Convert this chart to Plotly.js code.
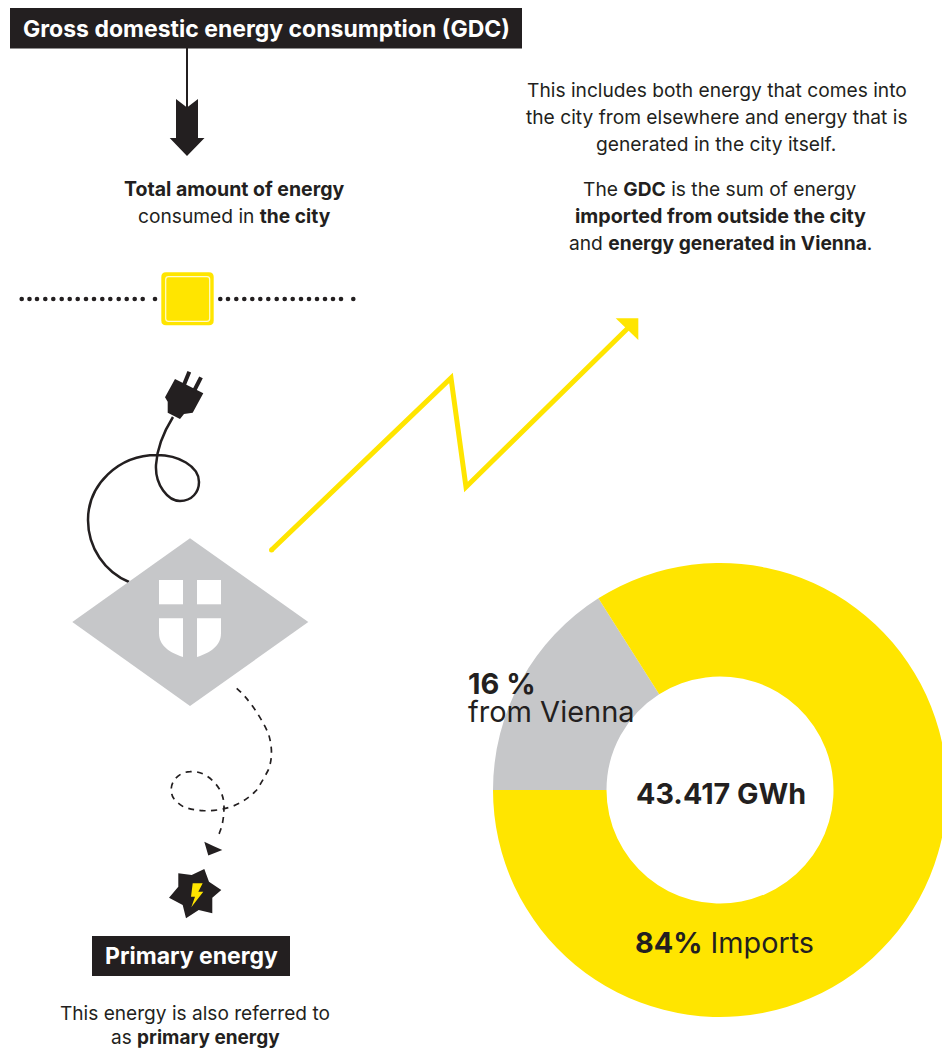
<!DOCTYPE html>
<html>
<head>
<meta charset="utf-8">
<script src="https://cdn.plot.ly/plotly-3.0.1.min.js"></script>
<style>
html,body{margin:0;padding:0;background:#fff;overflow:hidden;width:942px;height:1049px}
#chart{width:950px;height:1049px}
</style>
</head>
<body>
<div id="chart"></div>
<script>
// Share of gross domestic energy consumption by origin
const shareLabels = ['from Vienna', 'Imports'];
const shareValues = [16, 84];
const shareColors = ['#C6C7C9', '#FFE500'];

const INK = '#231F20';
const YELLOW = '#FFE500';
const GREY = '#C6C7C9';
const FONT = 'Inter, sans-serif';

// Beads of the dotted rule either side of the yellow socket plate
const ruleX = [21.7,29.5,37,45.3,53.3,61.7,69.7,77.7,86,94,102.3,110.3,118.7,126.7,134.7,142.7,155,
               220.3,228,236.3,244.3,252.3,260.3,268.3,276.7,284.7,292.7,301,309,317,325,333,341,353.3];
const ruleY = ruleX.map(() => 299);

const W = 950, H = 1049;

function filled(path, color) {
  return {type:'path', xref:'x', yref:'y', path, fillcolor:color, line:{width:0}, layer:'above'};
}
function stroked(path, color, width, dash) {
  return {type:'path', xref:'x', yref:'y', path, fillcolor:'rgba(0,0,0,0)',
          line:{color, width, dash:dash || 'solid'}, layer:'above'};
}
function box(x0, y0, x1, y1, color) {
  return {type:'rect', xref:'x', yref:'y', x0, y0, x1, y1, fillcolor:color, line:{width:0}, layer:'above'};
}

const shapes = [
  // Heading bars
  box(10, 8, 522, 48.5, INK),
  box(92, 936, 290, 976, INK),
  // Heavy arrow below the heading
  stroked('M187,48 L187,108', INK, 2),
  filled('M176,99 L187,107.5 L198,99 L198,138 L204.5,138 L187,156 L169.7,138 L176,138 Z', INK),
  // Yellow socket plate
  filled('M166,272.3 L209,272.3 Q213.7,272.3 213.7,277 L213.7,320.5 Q213.7,325.3 209,325.3 L166,325.3 Q161.3,325.3 161.3,320.5 L161.3,277 Q161.3,272.3 166,272.3 Z', YELLOW),
  stroked('M168.5,276.7 L207,276.7 Q209.7,276.7 209.7,279.5 L209.7,318.5 Q209.7,321.3 207,321.3 L168.5,321.3 Q165.7,321.3 165.7,318.5 L165.7,279.5 Q165.7,276.7 168.5,276.7 Z', '#FFFBD0', 1.2),
  // Plug and its cable
  stroked('M173,417 C163,433 157,448 156,465 C155,485 168,501 180,501 C192,501 199,492 199,482 C199,466 178,455 157,455 C118,455 88,485 88,520 C88,548 105,572 129,582', INK, 2.5),
  filled('M175,379 L203.3,393.3 L192.7,412.7 L184,414 L180,419 L167.7,412.7 L167.7,401.7 L165,397.3 Z', INK),
  stroked('M183.5,386 L189.3,371.7', INK, 4),
  stroked('M193.5,392 L201,377.3', INK, 4),
  // City diamond with the coat of arms
  filled('M190,538.3 L308.3,622 L190,706 L72.3,622 Z', GREY),
  box(159, 580, 183, 604.3, '#FFFFFF'),
  box(197, 580, 221, 604.3, '#FFFFFF'),
  filled('M159,618.3 L183,618.3 L183,657 C170,653 159,646 159,633.3 Z', '#FFFFFF'),
  filled('M197,618.3 L221,618.3 L221,633.3 C221,646 210,653 197,657 Z', '#FFFFFF'),
  // Dashed looping path to the primary energy star
  stroked('M236.7,688.3 C247,697 260,715 268.3,733.3 C272,745 273,758 268.3,770 C263,780 258,788 256.7,790 C250,797 243,802 233.3,806 C222,810 212,811 203.3,810.7 C195,810 189,809 183.3,806.7 C176,802 172,798 171.7,793.3 C169,783 178,772 190,771.7 C197,771 202,773 206.7,776 C213,780 217,785 220,790 C223,796 224,801 224,806.7 C224,815 223,821 221.7,826.7 C220,831 219,835 217.3,838.3', INK, 1.7, '6px,5.5px'),
  filled('M204.3,841.7 L213.3,846 L222.3,850 L208.3,855.5 Z', INK),
  // Star and lightning bolt
  filled('M204.3,869 L209,881.7 L221.3,890 L212.3,897.7 L212.3,913.3 L198.7,910 L186,918.3 L182.7,905 L169,897.7 L178.3,886.7 L178.3,873.3 L191.7,875 Z', INK),
  filled('M192.7,883.3 L202.7,883.3 L198.3,891.7 L203.3,891.7 L191.3,907.3 L195,896.7 L191,896.7 Z', YELLOW),
  // Yellow zigzag arrow
  stroked('M271.5,550 L451,378 L466,487 L628,328', YELLOW, 5),
  {type:'circle', xref:'x', yref:'y', x0:269, y0:547.5, x1:274, y1:552.5, fillcolor:YELLOW, line:{width:0}, layer:'above'},
  filled('M638.3,318.3 L615.7,318.3 L638.3,340 Z', YELLOW)
];

function note(text, x, y, size, opts) {
  return Object.assign({
    text, x, y, xref:'x', yref:'y', showarrow:false, xanchor:'center', yanchor:'middle',
    font:{family:FONT, size, color:INK}
  }, opts || {});
}

const annotations = [
  note('<b>Gross domestic energy consumption (GDC)</b>', 266, 29, 23, {font:{family:FONT, size:23, color:'#fff'}}),
  note('<b>Total amount of energy</b>', 234.5, 189, 19.5),
  note('consumed in <b>the city</b>', 234, 216, 19.2),
  note('This includes both energy that comes into', 717, 90, 19.2),
  note('the city from elsewhere and energy that is', 717, 117, 19.2),
  note('generated in the city itself.', 716, 144, 19.2),
  note('The <b>GDC</b> is the sum of energy', 720, 189, 19.2),
  note('<b>imported from outside the city</b>', 720, 216, 19.7),
  note('and <b>energy generated in Vienna</b>.', 720, 243, 19.2),
  note('<b>16 %</b>', 466, 683, 29, {xanchor:'left'}),
  note('from Vienna', 466, 711, 29, {xanchor:'left'}),
  note('<b>43.417 GWh</b>', 721, 793, 28.7),
  note('<b>84%</b> Imports', 724, 942, 28.8),
  note('<b>Primary energy</b>', 191, 956, 23, {font:{family:FONT, size:23, color:'#fff'}}),
  note('This energy is also referred to', 195, 1013, 19.1),
  note('as <b>primary energy</b>', 195, 1037.5, 19)
];

const data = [
  {
    type:'pie', labels:shareLabels, values:shareValues, sort:false, direction:'clockwise', rotation:270,
    hole:0.5, textinfo:'none', hoverinfo:'label+percent', showlegend:false,
    marker:{colors:shareColors, line:{width:0}},
    domain:{x:[493/W, 947/W], y:[(H-1017)/H, (H-563)/H]}
  },
  {
    type:'scatter', mode:'markers', x:ruleX, y:ruleY, hoverinfo:'skip', showlegend:false,
    marker:{color:INK, size:4.6, line:{width:0}}
  }
];

const layout = {
  width:W, height:H, margin:{l:0, r:0, t:0, b:0}, paper_bgcolor:'#fff', plot_bgcolor:'rgba(0,0,0,0)',
  xaxis:{range:[0, W], visible:false, fixedrange:true},
  yaxis:{range:[H, 0], visible:false, fixedrange:true},
  showlegend:false, shapes, annotations
};

Plotly.newPlot('chart', data, layout, {displayModeBar:false, responsive:false});
</script>
</body>
</html>
